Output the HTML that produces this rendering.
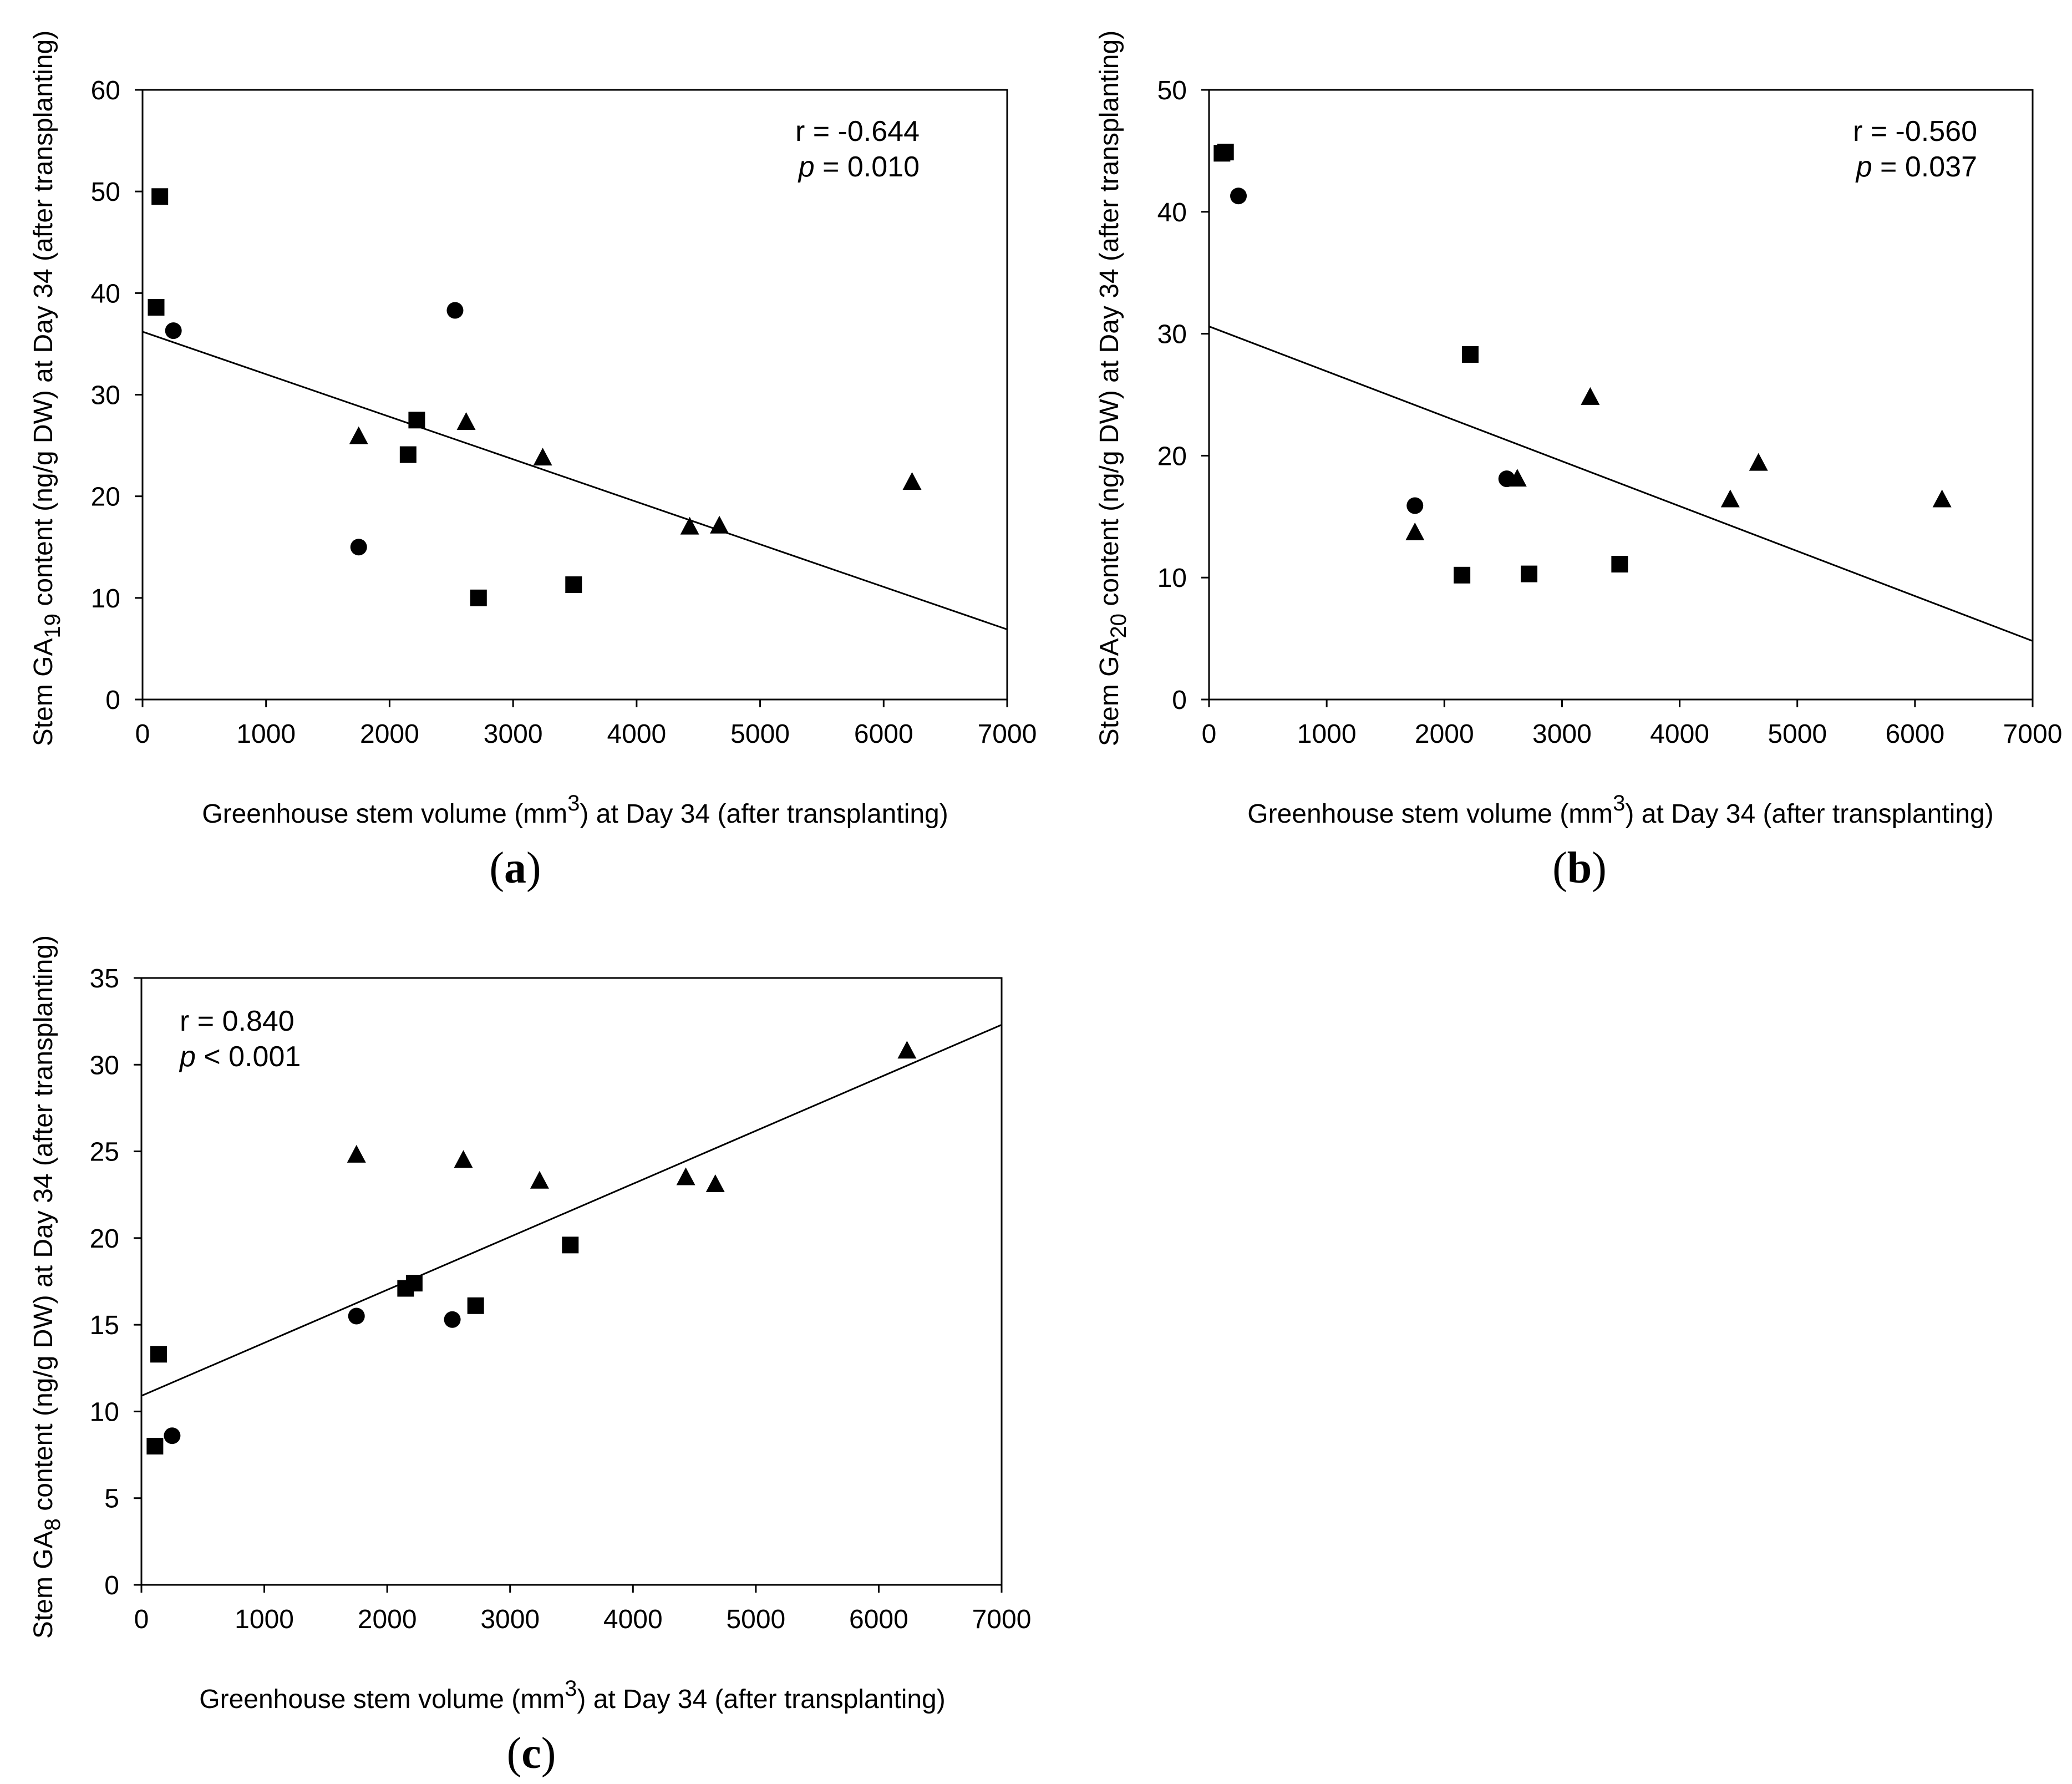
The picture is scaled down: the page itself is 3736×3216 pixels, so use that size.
<!DOCTYPE html>
<html><head><meta charset="utf-8"><style>
html,body{margin:0;padding:0;background:#fff;}
svg{display:block;font-family:"Liberation Sans",Arial,sans-serif;}
</style></head><body>
<svg id="fig" width="3736" height="3216" viewBox="0 0 3736 3216" xmlns="http://www.w3.org/2000/svg"></svg>
<script>
// shared x values
const sqX = [140, 110, 2220, 2150, 2720, 3490];
const ciX = [250, 2530, 1750];
const trX = [1750, 2620, 3240, 4430, 4670, 6230];
// panel a
const aSq = [49.5, 38.6, 27.5, 24.1, 10.0, 11.3];
const aCi = [36.3, 38.3, 15.0];
const aTr = [25.9, 27.3, 23.8, 17.0, 17.1, 21.4];
const aLine = [36.2, 6.9];
const aTicks = [0, 10, 20, 30, 40, 50, 60];
// panel b
const bSq = [44.9, 44.8, 28.3, 10.2, 10.3, 11.1];
const bCi = [41.3, 18.1, 15.9];
const bTr = [13.7, 18.1, 24.8, 16.4, 19.4, 16.4];
const bLine = [30.6, 4.8];
const bTicks = [0, 10, 20, 30, 40, 50];
// panel c
const cSq = [13.3, 8.0, 17.4, 17.1, 16.1, 19.6];
const cCi = [8.6, 15.3, 15.5];
const cTr = [24.8, 24.5, 23.3, 23.5, 23.1, 30.8];
const cLine = [10.9, 32.3];
const cTicks = [0, 5, 10, 15, 20, 25, 30, 35];
const xTicks = [0, 1000, 2000, 3000, 4000, 5000, 6000, 7000];
const lineX = [0, 7000];

const NS = "http://www.w3.org/2000/svg";
const svg = document.getElementById('fig');
function mk(tag, attrs, parent){
  const e = document.createElementNS(NS, tag);
  for (const k in attrs) e.setAttribute(k, attrs[k]);
  (parent||svg).appendChild(e);
  return e;
}

function panel(p){
  const g = mk('g', {});
  
  
  const sx = v => p.x0 + (v - 0) / 7000 * (p.x1 - p.x0);
  const sy = v => p.y0 - v / p.ymax * (p.y0 - p.y1);
  const frame = mk('rect', {x:p.x0, y:p.y1, width:p.x1-p.x0, height:p.y0-p.y1, fill:'none', stroke:'#000', 'stroke-width':3}, g);
  
  
  p.yTicks.forEach(t => {
    const y = sy(t);
    mk('line', {x1:p.x0-14, x2:p.x0, y1:y, y2:y, stroke:'#000', 'stroke-width':3}, g);
    const tx = mk('text', {x:p.x0-40, y:y+17, 'font-size':48, 'text-anchor':'end'}, g);
    tx.textContent = t;
    
    
  });
  xTicks.forEach(t => {
    const x = sx(t);
    mk('line', {x1:x, x2:x, y1:p.y0, y2:p.y0+14, stroke:'#000', 'stroke-width':3}, g);
    const tx = mk('text', {x:x, y:p.y0+78, 'font-size':48, 'text-anchor':'middle'}, g);
    tx.textContent = t;
    
    
  });
  const ln = mk('line', {x1:sx(lineX[0]), y1:sy(p.line[0]), x2:sx(lineX[1]), y2:sy(p.line[1]), stroke:'#000', 'stroke-width':3}, g);
  
  
  sqX.forEach((x,i) => {
    const r = mk('rect', {x:sx(x)-15, y:sy(p.sq[i])-15, width:30, height:30, fill:'#000'}, g);
    
    
  });
  ciX.forEach((x,i) => {
    const c = mk('circle', {cx:sx(x), cy:sy(p.ci[i]), r:15, fill:'#000'}, g);
    
    
  });
  trX.forEach((x,i) => {
    const cx = sx(x), cy = sy(p.tr[i]);
    const t = mk('polygon', {points:`${cx},${cy-18} ${cx-17},${cy+14} ${cx+17},${cy+14}`, fill:'#000'}, g);
    
    
  });
  // annotation
  const a1 = mk('text', {x:p.ax, y:p.ay, 'font-size':52, 'text-anchor':p.anchor}, g);
  a1.textContent = p.r;
  
  
  const a2 = mk('text', {x:p.ax, y:p.ay+64, 'font-size':52, 'text-anchor':p.anchor}, g);
  a2.innerHTML = '<tspan font-style="italic">p</tspan> ' + p.p;
  
  
  // x title
  const xt = mk('text', {x:p.xtc, y:p.y0+222, 'font-size':48, 'text-anchor':'middle'}, g);
  xt.innerHTML = 'Greenhouse stem volume (mm<tspan dy="-22" font-size="40">3</tspan><tspan dy="22">) at Day 34 (after transplanting)</tspan>';
  
  
  // y title
  const yt = mk('text', {x:0, y:0, 'font-size':48, 'text-anchor':'middle', transform:`translate(${p.ytx},${p.ytc}) rotate(-90)`}, g);
  yt.innerHTML = 'Stem GA<tspan dy="14" font-size="40">' + p.sub + '</tspan><tspan dy="-14"> content (ng/g DW) at Day 34 (after transplanting)</tspan>';
  
  
  // panel label
  const pl = mk('text', {x:p.plx, y:p.y0+330, 'font-size':80, 'text-anchor':'middle', 'font-family':'"Liberation Serif",serif'}, g);
  pl.innerHTML = '(<tspan font-weight="bold">' + p.id + '</tspan>)';
  
  
}

panel({id:'a', x0:257, x1:1816, y0:1261, y1:162, ymax:60, yTicks:aTicks, sq:aSq, ci:aCi, tr:aTr, line:aLine,
  r:'r = -0.644', p:'= 0.010', ax:1658, ay:254, anchor:'end', sub:'19', ytx:94, ytc:700, xtc:1037, plx:929});
panel({id:'b', x0:2180, x1:3665, y0:1261, y1:162, ymax:50, yTicks:bTicks, sq:bSq, ci:bCi, tr:bTr, line:bLine,
  r:'r = -0.560', p:'= 0.037', ax:3565, ay:254, anchor:'end', sub:'20', ytx:2016, ytc:700, xtc:2922, plx:2848});
panel({id:'c', x0:255, x1:1806, y0:2857, y1:1763, ymax:35, yTicks:cTicks, sq:cSq, ci:cCi, tr:cTr, line:cLine,
  r:'r = 0.840', p:'< 0.001', ax:324, ay:1858, anchor:'start', sub:'8', ytx:94, ytc:2320, xtc:1032, plx:958});
</script>
</body></html>
